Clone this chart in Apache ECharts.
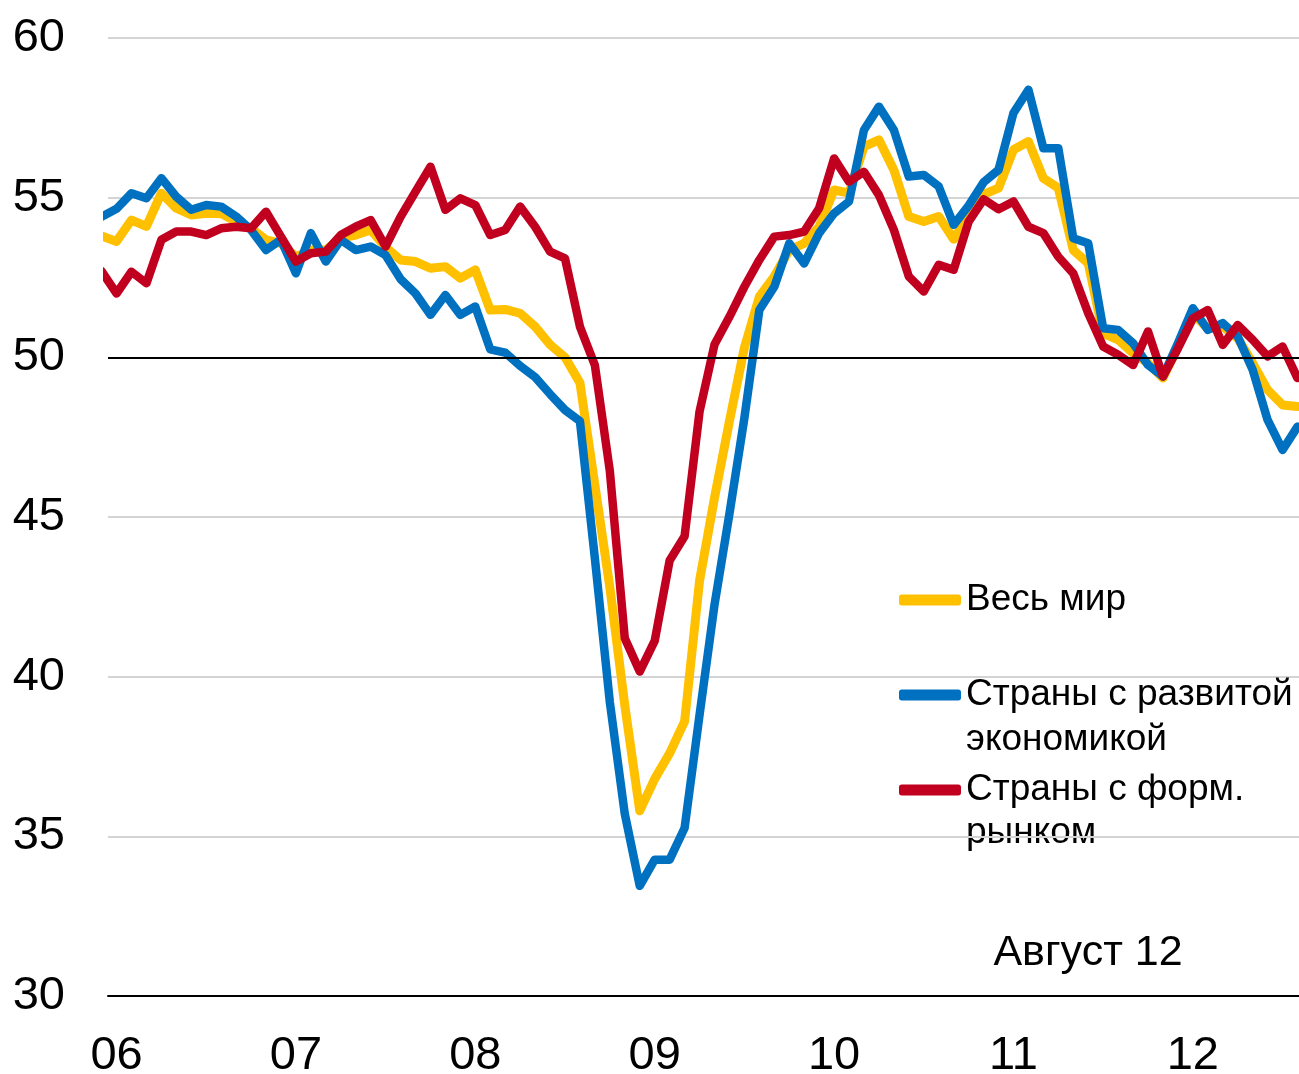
<!DOCTYPE html>
<html>
<head>
<meta charset="utf-8">
<script src="https://cdn.jsdelivr.net/npm/echarts@6/dist/echarts.min.js"></script>
<style>
html,body{margin:0;padding:0;background:#fff}
#chart{width:1299px;height:1074px}
</style>
</head>
<body>
<div id="chart"></div>
<script>
// годовые подписи оси X (январь каждого года)
var yearLabels = ['06', '07', '08', '09', '10', '11', '12'];
// PMI обрабатывающих отраслей, помесячно: дек. 2005 - авг. 2012
var world = [53.8, 53.63, 54.3, 54.1, 55.14, 54.67, 54.46, 54.51, 54.5, 54.25, 54.04,
    53.68, 53.57, 53.15, 53.36, 53.36, 53.73, 53.83, 53.99, 53.45, 53.05,
    53.0, 52.79, 52.84, 52.48, 52.74, 51.48, 51.5, 51.38, 50.96, 50.4,
    50.0, 49.2, 46.0, 42.8, 39.1, 35.8, 36.8, 37.6, 38.6, 43.0,
    45.6, 48.0, 50.3, 51.9, 52.53, 53.36, 53.57, 54.09, 55.24, 55.14,
    56.6, 56.81, 55.87, 54.41, 54.25, 54.41, 53.7, 54.41, 55.1, 55.3,
    56.5, 56.76, 55.61, 55.3, 53.36, 52.94, 50.75, 50.55, 50.13, 49.82,
    49.35, 50.34, 51.38, 50.9, 50.97, 50.6, 49.82, 48.98, 48.51, 48.46];
var developed = [54.4, 54.65, 55.14, 54.98, 55.61, 55.03, 54.62, 54.77, 54.72, 54.41, 53.99,
    53.36, 53.68, 52.63, 53.89, 53.0, 53.68, 53.36, 53.47, 53.2, 52.45,
    52.0, 51.33, 51.95, 51.33, 51.59, 50.25, 50.15, 49.73, 49.38, 48.85,
    48.35, 48.0, 43.7, 39.2, 35.7, 33.45, 34.27, 34.27, 35.26, 38.8,
    42.25, 45.1, 48.1, 51.48, 52.21, 53.57, 52.94, 53.89, 54.51, 54.88,
    57.12, 57.85, 57.12, 55.66, 55.71, 55.35, 54.15, 54.75, 55.48, 55.87,
    57.65, 58.38, 56.55, 56.55, 53.73, 53.57, 50.91, 50.86, 50.44, 49.76,
    49.4, 50.44, 51.54, 50.86, 51.07, 50.65, 49.61, 48.04, 47.1, 47.83];
var emerging = [52.7, 52.0, 52.68, 52.32, 53.68, 53.94, 53.94, 53.83, 54.04, 54.09, 54.04,
    54.56, 53.78, 53.0, 53.26, 53.31, 53.83, 54.09, 54.3, 53.47, 54.4,
    55.19, 55.97, 54.62, 54.98, 54.77, 53.83, 53.99, 54.72, 54.09, 53.31,
    53.1, 50.96, 49.75, 46.44, 41.2, 40.16, 41.12, 43.64, 44.4, 48.3,
    50.4, 51.27, 52.21, 53.05, 53.78, 53.83, 53.94, 54.67, 56.23, 55.5,
    55.81, 55.08, 53.99, 52.53, 52.06, 52.9, 52.74, 54.25, 54.95, 54.64,
    54.88, 54.09, 53.89, 53.15, 52.63, 51.38, 50.34, 50.08, 49.76, 50.81,
    49.4, 50.28, 51.22, 51.48, 50.39, 51.01, 50.55, 50.03, 50.34, 49.35];

var names = ['Весь мир', 'Страны с развитой\nэкономикой', 'Страны с форм.\nрынком'];
var colors = ['#FFC000', '#0070C0', '#C0001E'];
var FONT = '"Liberation Sans", Arial, sans-serif';

// индекс месяца: 0 = январь 2006, первая точка - декабрь 2005
function toPoints(arr) {
    return arr.map(function (v, i) { return [i - 1, v]; });
}

var myChart = echarts.init(document.getElementById('chart'));

// легенда: значок + первая строка подписи; вторая строка - отдельным текстом
function legendFor(i, top) {
    return {
        data: [names[i]],
        left: 899,
        top: top,
        orient: 'vertical',
        icon: 'roundRect',
        itemWidth: 62,
        itemHeight: 11,
        padding: 0,
        formatter: function (name) { return name.split('\n')[0]; },
        textStyle: {fontSize: 37, fontFamily: FONT, color: '#000', lineHeight: 44}
    };
}

function secondLine(i, y) {
    return {
        type: 'text',
        x: 966,
        y: y,
        style: {
            text: names[i].split('\n')[1],
            font: '37px ' + FONT,
            fill: '#000',
            align: 'left',
            verticalAlign: 'middle'
        }
    };
}

var series = [world, developed, emerging].map(function (arr, i) {
    var s = {
        name: names[i],
        type: 'line',
        data: toPoints(arr),
        symbol: 'none',
        color: colors[i],
        lineStyle: {width: i === 0 ? 9 : 8.5, color: colors[i], join: 'round', cap: 'round'},
        z: 2 + i
    };
    if (i === 0) {
        s.markLine = {
            silent: true,
            symbol: 'none',
            label: {show: false},
            lineStyle: {color: '#000', width: 2, type: 'solid'},
            data: [{yAxis: 50}]
        };
    }
    return s;
});

var option = {
    animation: false,
    backgroundColor: '#fff',
    grid: {left: 108, right: 0, top: 38, bottom: 78, containLabel: false, outerBoundsMode: 'none'},
    legend: [
        legendFor(0, 578),
        legendFor(1, 673),
        legendFor(2, 768)
    ],
    xAxis: {
        type: 'value',
        min: -0.57,
        max: 79.1,
        axisLine: {show: true, onZero: false, lineStyle: {color: '#000', width: 2}},
        axisTick: {show: false},
        splitLine: {show: false},
        axisLabel: {
            customValues: yearLabels.map(function (_, i) { return i * 12; }),
            formatter: function (v) { return yearLabels[Math.round(v / 12)]; },
            fontSize: 47,
            fontFamily: FONT,
            color: '#000',
            margin: 37
        }
    },
    yAxis: {
        type: 'value',
        min: 30,
        max: 60,
        interval: 5,
        axisLine: {show: false},
        axisTick: {show: false},
        axisLabel: {fontSize: 47, fontFamily: FONT, color: '#000', margin: 43},
        splitLine: {lineStyle: {color: '#d4d4d4', width: 2}}
    },
    graphic: [
        secondLine(1, 740),
        secondLine(2, 833),
        {
            type: 'text',
            x: 1088,
            y: 953,
            style: {
                text: 'Август 12',
                font: '43px ' + FONT,
                fill: '#000',
                align: 'center',
                verticalAlign: 'middle'
            }
        }
    ],
    series: series
};

myChart.setOption(option);
</script>
</body>
</html>
